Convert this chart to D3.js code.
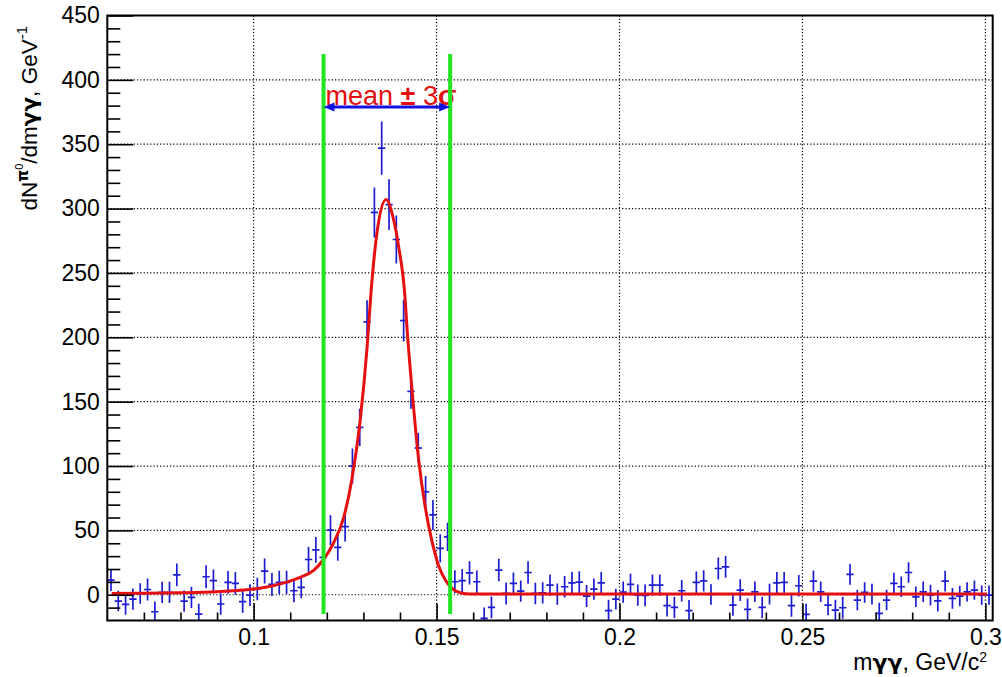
<!DOCTYPE html>
<html><head><meta charset="utf-8">
<script src="https://cdn.jsdelivr.net/npm/d3@7"></script>
<style>
html,body{margin:0;padding:0;background:#fff;}
svg{display:block;font-family:"Liberation Sans",Arial,Helvetica,sans-serif;}
</style></head>
<body>
<svg id="c" width="1002" height="677"></svg>
<script>
// ---- data ----
const binLow = 0.06, binWidth = 0.002, nBins = 121;
const xDomain = [0.06, 0.302];
const yDomain = [-20, 450];
const xMajorTicks = [0.1, 0.15, 0.2, 0.25, 0.3];
const xTickLabels = ["0.1", "0.15", "0.2", "0.25", "0.3"];
const yMajorTicks = [0, 50, 100, 150, 200, 250, 300, 350, 400, 450];
const counts = [
 11.4, -4.9, -7.5, -3.4, 1, 4.1, -13.2, 1.8, 1.8, 15.5,
 -4.9, -2, -15, 14, 10.9, -7.2, 9.6, 8.8, -5.4, -0.3,
 4.5, 18.4, 8, 9.6, 9.6, 3.1, 5.7, 27.4, 34.8, 29,
 50.2, 36.8, 53, 100, 130, 212, 297, 347, 303, 276,
 213, 158, 114, 80, 62, 36, 45, 10.1, 11, 17,
 10.1, -18.4, -9.8, 19.2, 1, 8.8, 2.8, 17.3, 1, 1.5,
 7.5, 0.5, 6.2, 9.3, 9.8, -1, 4.4, 9.3, -12.4, -3.4,
 2, 8, -0.3, -0.5, 7.5, 7.5, -8.5, -9.8, 3.1, -12.4,
 9.6, 10.8, 0.2, 20.4, 21.7, -8, 3.6, -11.4, 2.3, -9.8,
 0.5, 9.3, 9.6, -8.5, 7, -15.3, 10.6, 2.3, -8, -11.9,
 -10.1, 15.8, -4.1, 1.8, 0.5, -14.5, -4.1, 8.8, 6.2, 17.3,
 -1.6, 2.3, -0.3, -4.7, 10.6, -2.8, -1, 2.3, 3.6, -0.3,
 -0.3
];
const errors = [
 8.5, 8, 8, 8.3, 8, 8.5, 8, 8.3, 8.3, 8.8,
 8.3, 8.3, 8, 9, 8.8, 8.3, 8.8, 8.8, 8.5, 8.5,
 8.8, 9.7, 9, 9, 9, 9,
 8.5, 9.7, 10, 10.5, 11.6, 10.4, 11.6, 13.6, 14.5, 16.8,
 19.4, 20.7, 19.7, 18.6, 16.2, 13.5, 11.6, 12.3, 11.6, 11, 11, 9, 9, 9,
 8.8, 8.5, 8.5, 8.8, 8.5, 8.5, 8.3, 8.8, 8.3, 8.3,
 8.3, 8.3, 8.3, 8.3, 8.5, 8.5, 8.3, 8.3, 8.5, 8,
 8.3, 8.3, 8.3, 8.5, 8.3, 8.3, 8.3, 8.3, 8.3, 8.3,
 8.5, 8.3, 8, 8.5, 8.5, 8.3, 8.5, 8.5, 8, 8.3,
 8, 8.3, 8, 8.5, 8.3, 8.3, 8.3, 8, 8, 8,
 8.5, 8, 8, 8, 8, 8.3, 8, 8.3, 8, 8,
 8, 8, 8, 8.3, 8, 8, 8, 7.5, 7.5, 7.5,
 7.5
];
// fit curve: [mass, value]
const fitX = [0.0612, 0.07, 0.08, 0.09, 0.0945, 0.1, 0.1036, 0.107, 0.109, 0.1127, 0.1164, 0.119, 0.1218, 0.1246, 0.1268, 0.1291, 0.131, 0.132, 0.1337, 0.1362, 0.1382, 0.1396, 0.1414, 0.1419, 0.1433, 0.1451, 0.1469, 0.1487, 0.1505, 0.1524, 0.1542, 0.1565, 0.1592, 0.17, 0.3005];
const fitY = [1.0, 1.2, 1.5, 2.3, 3.1, 4.4, 6.0, 8.3, 9.8, 13.5, 19, 27, 40, 60, 89, 135, 192, 232, 281, 307, 292, 271, 230, 208, 159, 105, 68, 42, 23, 11.4, 4.9, 1.6, 0.6, 0.5, 0.5];
// mean ± 3 sigma window
const windowLow = 0.1191, windowHigh = 0.1537;
const windowYRange = [-15, 420];
const arrowY = 379;
const windowLabel = ["mean ", "\u00B1", " 3", "\u03C3"];

// ---- layout ----
const L = 107.3, R = 992.7, T = 15.5, B = 620.5;
const svg = d3.select("#c");
const x = d3.scaleLinear().domain(xDomain).range([L, R]);
const y = d3.scaleLinear().domain(yDomain).range([B, T]);

svg.append("defs").append("clipPath").attr("id","frameClip")
  .append("rect").attr("x",L).attr("y",T).attr("width",R-L).attr("height",B-T);

// grid
const grid = svg.append("g").attr("stroke","#000").attr("stroke-width",1.2).attr("stroke-dasharray","1.2,2.1");
grid.selectAll("line.v").data(xMajorTicks).join("line")
  .attr("x1",d=>x(d)).attr("x2",d=>x(d)).attr("y1",T).attr("y2",B);
grid.selectAll("line.h").data(yMajorTicks).join("line")
  .attr("x1",L).attr("x2",R).attr("y1",d=>y(d)).attr("y2",d=>y(d));

// data points
const centers = d3.range(nBins).map(i => binLow + binWidth*(i+0.5));
const pts = centers.map((c,i)=>({c, v:counts[i], e:errors[i]}));
const dg = svg.append("g").attr("clip-path","url(#frameClip)").attr("stroke","#1c1cd0").attr("stroke-width",1.7);
dg.selectAll("line.ev").data(pts).join("line")
  .attr("x1",d=>x(d.c)).attr("x2",d=>x(d.c)).attr("y1",d=>y(d.v-d.e)).attr("y2",d=>y(d.v+d.e));
dg.selectAll("line.eh").data(pts).join("line")
  .attr("x1",d=>x(d.c-binWidth/2)).attr("x2",d=>x(d.c+binWidth/2)).attr("y1",d=>y(d.v)).attr("y2",d=>y(d.v));

// fit curve
const fit = fitX.map((m,i)=>[m, fitY[i]]);
svg.append("path").datum(fit).attr("clip-path","url(#frameClip)")
  .attr("fill","none").attr("stroke","#e41010").attr("stroke-width",3)
  .attr("stroke-linejoin","round")
  .attr("d", d3.line().x(d=>x(d[0])).y(d=>y(d[1])).curve(d3.curveMonotoneX));

// label
const lab = svg.append("text").attr("x", x(windowLow)+2).attr("y", y(arrowY)-1.5)
  .attr("fill","#e41010").attr("font-size",27);
windowLabel.forEach((t,i)=>{
  lab.append("tspan").text(t).attr("font-weight", (i===1||i===3) ? "bold" : "normal");
});

// green window lines
svg.append("g").attr("stroke","#22e622").attr("stroke-width",4)
  .selectAll("line").data([windowLow, windowHigh]).join("line")
  .attr("x1",d=>x(d)).attr("x2",d=>x(d)).attr("y1",y(windowYRange[0])).attr("y2",y(windowYRange[1]));

// blue double arrow
const ax1 = x(windowLow), ax2 = x(windowHigh), ay = y(arrowY);
const ag = svg.append("g").attr("fill","#1010e0").attr("stroke","#1010e0");
ag.append("line").attr("x1",ax1+6).attr("x2",ax2-6).attr("y1",ay).attr("y2",ay).attr("stroke-width",3);
ag.append("path").attr("stroke","none").attr("d",`M${ax1},${ay}L${ax1+11},${ay-4.5}L${ax1+11},${ay+4.5}Z`);
ag.append("path").attr("stroke","none").attr("d",`M${ax2},${ay}L${ax2-11},${ay-4.5}L${ax2-11},${ay+4.5}Z`);

// frame
svg.append("rect").attr("x",L).attr("y",T).attr("width",R-L).attr("height",B-T)
  .attr("fill","none").attr("stroke","#000").attr("stroke-width",2);

// axes
const xMinor = d3.range(0.07, 0.3001, 0.01).filter(v=>!xMajorTicks.some(m=>Math.abs(m-v)<1e-6));
const yMinor = d3.range(-10, 450, 10).filter(v=>v%50!==0);
svg.append("g").attr("transform",`translate(0,${B})`)
  .call(d3.axisBottom(x).tickValues(xMajorTicks).tickSize(-17).tickPadding(8)
        .tickFormat((d,i)=>xTickLabels[i]));
svg.append("g").attr("transform",`translate(0,${B})`)
  .call(d3.axisBottom(x).tickValues(xMinor).tickSize(-8).tickFormat(""));
svg.append("g").attr("transform",`translate(${L},0)`)
  .call(d3.axisLeft(y).tickValues(yMajorTicks).tickSize(-26).tickPadding(7.5));
svg.append("g").attr("transform",`translate(${L},0)`)
  .call(d3.axisLeft(y).tickValues(yMinor).tickSize(-13).tickFormat(""));
svg.selectAll(".domain").remove();
svg.selectAll(".tick line").attr("stroke","#000").attr("stroke-width",1.6);
svg.selectAll(".tick text").attr("fill","#000").attr("font-size",23)
  .attr("font-family","'Liberation Sans',Arial,Helvetica,sans-serif");

// x title
const xt = svg.append("text").attr("x",987).attr("y",670).attr("text-anchor","end").attr("font-size",23).attr("fill","#000");
xt.append("tspan").text("m");
xt.append("tspan").text("\u03B3\u03B3").attr("font-weight","bold").attr("font-family","'DejaVu Sans',sans-serif").attr("font-size",22);
xt.append("tspan").text(", GeV/c");
xt.append("tspan").text("2").attr("font-size",14).attr("dy",-8);

// y title
const yt = svg.append("text").attr("transform","translate(37,26) rotate(-90)")
  .attr("text-anchor","end").attr("font-size",22.5).attr("fill","#000");
yt.append("tspan").text("dN");
yt.append("tspan").text("\u03C0").attr("font-weight","bold").attr("font-size",15).attr("dy",-9).attr("font-family","'DejaVu Sans',sans-serif");
yt.append("tspan").text("0").attr("font-size",11).attr("dy",-5);
yt.append("tspan").text("/dm").attr("dy",14);
yt.append("tspan").text("\u03B3\u03B3").attr("font-weight","bold").attr("font-family","'DejaVu Sans',sans-serif").attr("font-size",21.5);
yt.append("tspan").text(", GeV");
yt.append("tspan").text("-1").attr("font-size",15).attr("dy",-10);
</script>
</body></html>
